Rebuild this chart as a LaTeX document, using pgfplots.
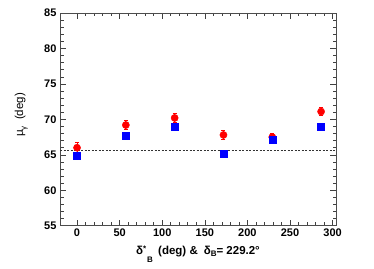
\documentclass[border=0pt]{standalone}
\usepackage{pgfplots}
\pgfplotsset{compat=1.18}
\usepackage{fontspec}
\setmainfont{Liberation Sans}
\begin{document}
\begin{tikzpicture}
\useasboundingbox (0pt,0pt) rectangle (374pt,268pt);
\begin{axis}[
  at={(60pt,42.3pt)}, anchor=south west,
  scale only axis, width=276pt, height=212.7pt,
  xmin=-20, xmax=304, ymin=55, ymax=85,
  xtick={0,50,...,300}, minor x tick num=4,
  ytick={55,60,...,85}, minor y tick num=4,
  tick align=inside, ticks=both,
  xtick pos=both, ytick pos=both,
  major tick length=6pt, minor tick length=3.5pt,
  every tick/.style={black!75, line width=0.6pt},
  axis line style={black!70, line width=0.6pt},
  tick label style={font=\fontsize{11}{12}\selectfont\bfseries},
  /pgf/number format/assume math mode=true,
  clip=false,
]
\addplot[black!80, dash pattern=on 2pt off 1.5pt, line width=0.6pt, forget plot] coordinates {(-20,65.7) (304,65.7)};
\addplot[red, only marks, mark=*, mark size=3.6pt,
  error bars/.cd, y dir=both, y explicit, error bar style={red, line width=1pt},
  error mark options={rotate=90, mark size=2pt, red, line width=1pt}]
  coordinates {
  (0,66.0) +- (0,0.8)
  (57.3,69.2) +- (0,0.7)
  (114.6,70.2) +- (0,0.6)
  (171.9,67.8) +- (0,0.6)
  (229.2,67.5) +- (0,0.5)
  (286.5,71.1) +- (0,0.6)
  };
\addplot[blue, only marks, mark=square*, mark size=3.5pt]
  coordinates {
  (0,64.9) (57.3,67.7) (114.6,68.9) (171.9,65.1) (229.2,67.15) (286.5,69.0)
  };
\end{axis}
\node[anchor=base, font=\fontsize{11.5}{13}\selectfont\bfseries] at (198pt,14pt) {δ\raisebox{3pt}{\fontsize{8}{9}\selectfont*}\hspace{1pt}\raisebox{-8pt}{\fontsize{8}{9}\selectfont B}\hspace{2pt} (deg) \&\hspace{6pt}δ\raisebox{-2.5pt}{\fontsize{8}{9}\selectfont B}= 229.2°};
\node[rotate=90, anchor=base, font=\fontsize{11.5}{13}\selectfont] at (23pt,153pt) {μ\raisebox{-3pt}{\fontsize{8}{9}\selectfont γ}\ \ (deg)};
\end{tikzpicture}
\end{document}
